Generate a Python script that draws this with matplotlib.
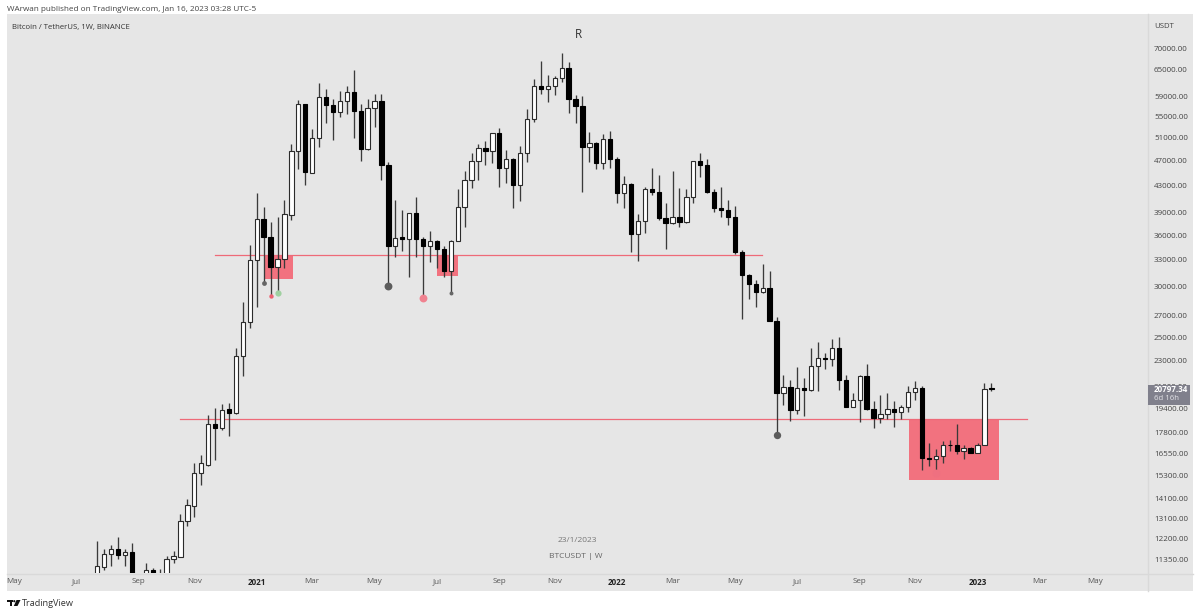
import matplotlib
matplotlib.use("Agg")
from matplotlib import pyplot as plt
from matplotlib.patches import Rectangle, Polygon, Circle
from matplotlib.ticker import NullLocator

plt.rcParams['font.family'] = ['Open Sans', 'DejaVu Sans']

# weekly BTCUSDT candles, first one is the week of 27 Jul 2020
opens = [9900, 11040, 11570, 11780, 11510, 11660, 10260, 10320, 10910, 10770,
         10660, 11340, 11450, 13010, 13720, 15400, 15890, 18390, 18100, 19350,
         19080, 23400, 26410, 32950, 38080, 35760, 32190, 33030, 38700, 48520,
         57440, 45000, 50840, 58960, 57140, 55800, 58130, 59960, 56090, 48940,
         56650, 58130, 46280, 34620, 35710, 35540, 38910, 35500, 34620, 35220,
         34230, 31710, 35290, 39750, 43760, 46880, 49120, 48640, 51750, 45720,
         47260, 43100, 48290, 54510, 61280, 60650, 61200, 63050, 65290, 58480,
         57000, 49340, 50000, 46500, 50770, 47170, 41790, 43130, 36190, 37860,
         42390, 41970, 38220, 37620, 38360, 37720, 41200, 46830, 46280, 42020,
         39640, 39330, 38360, 33940, 31230, 30250, 29370, 29870, 26530, 20530,
         20970, 19280, 20860, 20730, 22550, 23240, 23150, 24080, 21480, 19510,
         19980, 21790, 19350, 18740, 19030, 19370, 19180, 19510, 20600, 20910,
         16300, 16210, 16360, 17060, 17040, 16680, 16840, 16580, 17060, 20870]
highs = [12110, 11780, 11950, 12300, 11760, 12030, 10580, 11180, 11000, 10940,
         11490, 11690, 13330, 14050, 15960, 16430, 18960, 19450, 19720, 19790,
         24110, 28400, 34720, 41890, 39800, 37770, 38420, 40830, 49740, 58270,
         57500, 52550, 61840, 60550, 58410, 60100, 61290, 64840, 57350, 58410,
         59480, 59480, 46660, 40800, 39370, 39000, 41300, 35800, 36570, 35380,
         34620, 35380, 42500, 45260, 48190, 49820, 50400, 51800, 52800, 48760,
         47400, 49420, 56520, 62900, 67030, 63650, 63500, 68780, 66640, 59280,
         59070, 51950, 50100, 51700, 52100, 47500, 44450, 43400, 38790, 42690,
         45680, 44660, 40330, 45290, 42510, 42390, 46930, 48190, 47170, 42390,
         42740, 40800, 39910, 34140, 31300, 30680, 32540, 31710, 26860, 21870,
         21480, 22520, 21640, 24100, 24600, 23640, 24870, 25050, 21850, 20530,
         21850, 22760, 19950, 20360, 20490, 19930, 19620, 21000, 21430, 21000,
         17140, 16810, 17310, 17380, 18350, 17020, 16940, 17140, 21260, 21230]
lows = [9700, 10910, 11080, 11360, 11060, 9900, 9900, 10250, 10150, 10400,
        10370, 11180, 11430, 12760, 13180, 14770, 15830, 16150, 17950, 17570,
        19010, 21810, 25880, 27840, 30380, 28990, 29260, 31990, 37990, 45510,
        43020, 44920, 49340, 53630, 50480, 54750, 55480, 50930, 46930, 48760,
        52870, 43810, 30000, 33340, 34060, 31040, 33340, 28750, 32720, 32020,
        31040, 29320, 35220, 37030, 42550, 43810, 46220, 46500, 42740, 43400,
        39640, 40700, 46770, 53880, 59480, 57800, 59280, 62170, 55690, 53720,
        41970, 46770, 45510, 45510, 45680, 40420, 39640, 33940, 32870, 36230,
        41560, 37990, 34310, 37460, 37090, 37550, 40420, 44300, 41870, 39050,
        38390, 37310, 33640, 26700, 28640, 27870, 29270, 26500, 17650, 19630,
        18580, 19030, 18900, 20680, 20680, 22360, 22600, 20730, 19500, 19490,
        18500, 19300, 18080, 18450, 18730, 18180, 18670, 19170, 20000, 15590,
        15800, 15410, 16000, 16700, 16500, 16190, 16540, 16540, 17050, 20680]
closes = [11060, 11570, 11780, 11520, 11640, 10260, 10320, 10910, 10770, 10620,
          11340, 11460, 13000, 13740, 15440, 15960, 18390, 18120, 19320, 19100,
          23420, 26410, 32950, 38080, 35760, 32190, 33030, 38790, 48500, 57440,
          45050, 50840, 58960, 57140, 55800, 58130, 59960, 56090, 48990, 56650,
          58130, 46280, 34620, 35580, 35540, 38910, 35500, 34620, 35220, 34230,
          31710, 35290, 39750, 43760, 46880, 49120, 48640, 51750, 45720, 47170,
          43100, 48290, 54510, 61280, 60530, 61200, 63050, 65290, 58480, 57000,
          49340, 50000, 46500, 50770, 47170, 41790, 43130, 36190, 37860, 42390,
          41970, 38220, 37620, 38360, 37720, 41200, 46830, 46280, 42020, 39640,
          39330, 38360, 33940, 31230, 30250, 29400, 29870, 26530, 20530, 20970,
          19280, 20860, 20730, 22550, 23240, 23150, 24080, 21480, 19510, 19980,
          21790, 19350, 18740, 19030, 19370, 19180, 19510, 20600, 20910, 16300,
          16210, 16360, 17060, 17040, 16700, 16840, 16580, 17060, 20820, 20797.34]

price_ticks = [70000, 65000, 59000, 55000, 51000, 47000, 43000, 39000, 36000, 33000, 30000,
               27000, 25000, 23000, 21000, 19400, 17800, 16550, 15300, 14100, 13100, 12200, 11350]

# weeks counted from the first candle
month_weeks = [-12, -3, 6, 14, 23, 31, 40, 49, 58, 66, 75, 83, 92, 101, 110, 118, 127, 136, 144]
month_labels = ['May', 'Jul', 'Sep', 'Nov', '2021', 'Mar', 'May', 'Jul', 'Sep', 'Nov', '2022',
                'Mar', 'May', 'Jul', 'Sep', 'Nov', '2023', 'Mar', 'May']

# drawings on the chart: (week start, week end, price)
level_lines = [(17, 95.9, 33560), (11.9, 134.1, 18710)]
# (week start, week end, low price, high price)
zones = [(24.1, 28.2, 30790, 33560), (49, 52.1, 31080, 33560), (117.1, 130.1, 15040, 18710)]
# (week, colour, size)
low_dots = [(24, '#666666', 12), (25, '#ee6070', 10), (26, '#9fd0a0', 20), (42, '#5c5c5c', 32),
            (47, '#f08290', 32), (51, '#666666', 8), (98, '#5c5c5c', 28), (121, '#ef7080', 32)]

fig = plt.figure(figsize=(12, 6.14), dpi=100, facecolor='white')

# full figure layer in pixels for the panel and the texts round the chart
bg = fig.add_axes([0, 0, 1, 1], zorder=0)
bg.set_xlim(0, 1200)
bg.set_ylim(614, 0)
bg.axis('off')
bg.add_patch(Rectangle((7, 14), 1186, 577, color='#e6e6e6', lw=0))
bg.plot([1148, 1148], [14, 591], color='#d9d9d9', lw=1)
bg.plot([7, 1193], [573.5, 573.5], color='#d9d9d9', lw=1)

bg.text(7, 9.5, 'WArwan published on TradingView.com, Jan 16, 2023 03:28 UTC-5', fontsize=5.9,
        color='#444444', va='center')
bg.text(12, 27, 'Bitcoin / TetherUS, 1W, BINANCE', fontsize=5.6, color='#333333', va='center')
bg.text(1154, 27, 'USDT', fontsize=5.6, color='#444444', va='center')
bg.text(578, 35, 'R', fontsize=8.5, color='#333333', ha='center', va='center')
bg.text(577, 541, '23/1/2023', fontsize=6, color='#777777', ha='center', va='center')
bg.text(576, 557, 'BTCUSDT | W', fontsize=6, color='#666666', ha='center', va='center')

# TradingView mark and name
bg.add_patch(Rectangle((7, 600), 6, 2.2, color='#111111', lw=0))
bg.add_patch(Rectangle((9.5, 600), 2.6, 6, color='#111111', lw=0))
bg.add_patch(Circle((14.3, 601.2), 1.1, color='#111111', lw=0))
bg.add_patch(Polygon([(16.5, 600), (20.5, 600), (17.5, 606), (13.8, 606)], color='#111111', lw=0))
bg.text(22, 603.5, 'TradingView', fontsize=6.6, color='#333333', va='center')

ax = fig.add_axes([7 / 1200, (614 - 573) / 614, (1148 - 7) / 1200, (573 - 14) / 614], zorder=1)
ax.patch.set_alpha(0)
ax.set_yscale('log')
ax.set_xlim(-13.03, 151.6)
ax.set_ylim(10802, 79160)
for spine in ax.spines.values():
    spine.set_visible(False)

for x0, x1, low, high in zones:
    ax.add_patch(Rectangle((x0, low), x1 - x0, high - low, color='#f2727f', lw=0, zorder=1))
for x0, x1, price in level_lines:
    ax.plot([x0, x1], [price, price], color='#ee6a78', lw=0.9, zorder=1.5)

for i in range(len(opens)):
    up = closes[i] >= opens[i]
    ax.plot([i, i], [lows[i], highs[i]], color='#3a3a3a', lw=0.95, zorder=2, solid_capstyle='butt')
    ax.bar(i, abs(closes[i] - opens[i]), bottom=min(opens[i], closes[i]), width=0.62,
           facecolor='white' if up else 'black', edgecolor='#2b2b2b' if up else 'black',
           linewidth=0.8, zorder=3)

for week, colour, size in low_dots:
    ax.scatter(week, lows[week], s=size, color=colour, lw=0, zorder=4)

ax.yaxis.tick_right()
ax.yaxis.set_minor_locator(NullLocator())
ax.set_yticks(price_ticks)
ax.set_yticklabels(['%.2f' % p for p in price_ticks], fontsize=5.8, color='#444444')
ax.tick_params(axis='y', length=0, pad=4.3)
ax.set_xticks(month_weeks)
ax.set_xticklabels(month_labels, fontsize=5.8, color='#555555')
ax.tick_params(axis='x', length=0, pad=3.8)
for lab in ax.get_xticklabels():
    if lab.get_text().isdigit():
        lab.set_color('#222222')
        lab.set_fontweight('bold')

# last price tag sits over the axis labels
top = fig.add_axes([0, 0, 1, 1], zorder=2)
top.set_xlim(0, 1200)
top.set_ylim(614, 0)
top.axis('off')
top.add_patch(Rectangle((1148, 384.5), 42, 20, color='#80808c', lw=0))
top.text(1154, 390, '%.2f' % closes[-1], fontsize=5.8, color='white', fontweight='bold', va='center')
top.text(1154, 399, '6d 16h', fontsize=5.6, color='#e4e4e8', va='center')

plt.savefig('out.png', dpi=100, facecolor='white')
